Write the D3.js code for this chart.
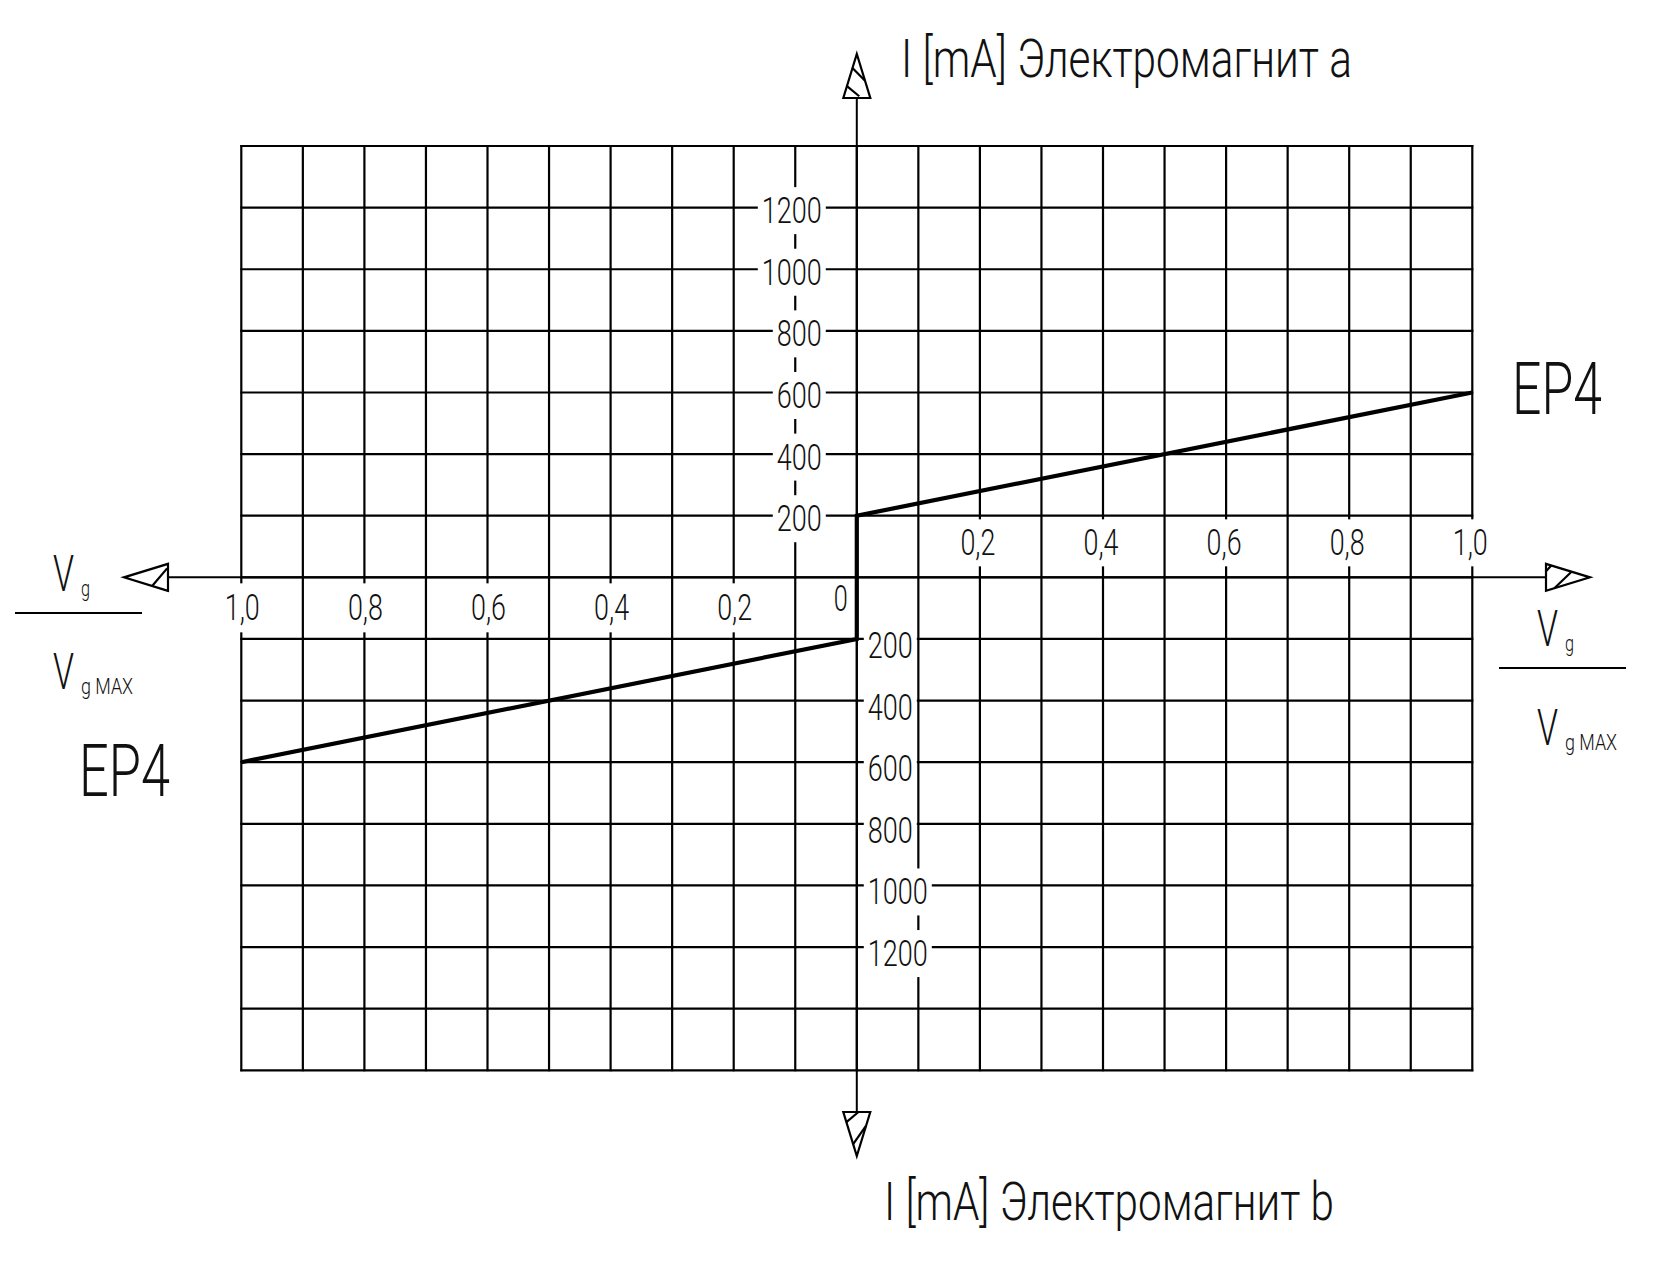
<!DOCTYPE html>
<html>
<head>
<meta charset="utf-8">
<script src="https://cdn.jsdelivr.net/npm/d3@7"></script>
<style>
  html, body { margin: 0; padding: 0; background: #fff; }
  svg { display: block; }
  text { font-family: Roboto, 'DejaVu Sans', sans-serif; font-weight: 300; fill: #111; }
</style>
</head>
<body>
<script>
'use strict';

// ---- data ----
var xTicksRight = [0.2, 0.4, 0.6, 0.8, 1.0];
var xTicksLeft = [-1.0, -0.8, -0.6, -0.4, -0.2];
var yTicksA = [200, 400, 600, 800, 1000, 1200];
var yTicksB = [-200, -400, -600, -800, -1000, -1200];
var curveX = [-1.0, 0, 0, 1.0];
var curveI = [-600, -200, 200, 600];
var titleA = 'I [mA] Электромагнит a';
var titleB = 'I [mA] Электромагнит b';
var seriesName = 'EP4';

var W = 1663, H = 1272;

var svg = d3.select('body').append('svg')
    .attr('width', W).attr('height', H);

var x = d3.scaleLinear().domain([-1, 1]).range([241.3, 1472.3]);
var y = d3.scaleLinear().domain([-1600, 1400]).range([1070.3, 146]);

var fmtX = function(v) { return d3.format('.1f')(Math.abs(v)).replace('.', ','); };
var fmtY = function(v) { return String(Math.abs(v)); };

// width of a label drawn in the narrow drafting style
function labelWidth(str, digit) {
  var w = 0;
  str.split('').forEach(function(c) { w += (c === ',') ? 7 : digit; });
  return w;
}

// text helper, squeezed to a given length
function addText(g, str, px, py, size, anchor, len) {
  var t = g.append('text')
      .attr('x', px).attr('y', py)
      .attr('font-size', size)
      .attr('text-anchor', anchor || 'start')
      .text(str);
  if (len) t.attr('textLength', len).attr('lengthAdjust', 'spacingAndGlyphs');
  return t;
}

// white box behind a text, so grid lines break around it
function backing(g, t, padX, padY) {
  var b = t.node().getBBox();
  g.insert('rect', function() { return t.node(); })
      .attr('x', b.x - padX).attr('y', b.y - padY)
      .attr('width', b.width + 2 * padX).attr('height', b.height + 2 * padY)
      .attr('fill', '#fff');
}

// ---- grid ----
var grid = svg.append('g').attr('stroke', '#000').attr('stroke-width', 2.2);
grid.selectAll('line.v').data(x.ticks(20)).enter().append('line')
    .attr('class', 'v')
    .attr('x1', function(d) { return x(d); }).attr('x2', function(d) { return x(d); })
    .attr('y1', y(1400) - 1).attr('y2', y(-1600) + 1);
grid.selectAll('line.h').data(y.ticks(15)).enter().append('line')
    .attr('class', 'h')
    .attr('y1', function(d) { return y(d); }).attr('y2', function(d) { return y(d); })
    .attr('x1', x(-1) - 1).attr('x2', x(1) + 1);

// ---- axes ----
var axes = svg.append('g').attr('stroke', '#000').attr('stroke-width', 2).attr('fill', 'none');
var x0 = x(0), y0 = y(0);
var arrowLen = 44, arrowHalf = 13.5;
var axL = 124 + arrowLen, axR = 1590 - arrowLen, axT = 55 + arrowLen - 1, axB = 1156 - arrowLen;

axes.append('line').attr('x1', axL).attr('x2', axR).attr('y1', y0).attr('y2', y0);
axes.append('line').attr('x1', x0).attr('x2', x0).attr('y1', axT).attr('y2', axB);

// hatched drafting arrow; local frame: u from base (0) to tip (1), v across (-1..1)
function arrow(bx, by, dx, dy, hatches) {
  var nx = -dy, ny = dx;
  var pt = function(u, v) {
    var hw = arrowHalf * (1 - u) * v;
    return [bx + dx * arrowLen * u + nx * hw, by + dy * arrowLen * u + ny * hw];
  };
  var tri = [pt(0, -1), pt(1, 0), pt(0, 1)];
  axes.append('path').attr('d', 'M' + tri.join('L') + 'Z').attr('fill', '#fff').attr('stroke-width', 2.2);
  hatches.forEach(function(h) {
    var a = pt(h[0], h[1]), b = pt(h[2], h[3]);
    axes.append('line').attr('x1', a[0]).attr('y1', a[1]).attr('x2', b[0]).attr('y2', b[1]).attr('stroke-width', 2.2);
  });
}
// up, down, right, left
arrow(x0, axT, 0, -1, [[0.39, 1, 0.68, -1], [0.04, 0.19, 0.27, -1]]);
arrow(x0, axB, 0, 1, [[0.73, 1, 0.31, -1], [0.23, 1, 0, -0.12]]);
arrow(axR, y0, 1, 0, [[0.19, 1, 0.58, -1], [0, -0.45, 0.12, -1]]);
arrow(axL, y0, -1, 0, [[0.36, -1, 0.02, 0.68]]);

// ---- tick labels ----
var labels = svg.append('g');

xTicksRight.forEach(function(v) {
  var s = fmtX(v);
  var t = addText(labels, s, x(v) - 2, y0 - 22, 37, 'middle', labelWidth(s, 14));
  backing(labels, t, 5, 2);
});
xTicksLeft.forEach(function(v) {
  var s = fmtX(v);
  var t = addText(labels, s, x(v) + 1, y0 + 43, 37, 'middle', labelWidth(s, 14));
  backing(labels, t, 5, 3);
});
addText(labels, '0', x0 - 16, y0 + 34, 37, 'middle', 14);

yTicksA.forEach(function(v) {
  var s = fmtY(v);
  var t = addText(labels, s, x0 - 35, y(v) + 15.5, 37, 'end', labelWidth(s, 15));
  backing(labels, t, 4, 2);
});
yTicksB.forEach(function(v) {
  var s = fmtY(v);
  var t = addText(labels, s, x0 + 11, y(v) + 19, 37, 'start', labelWidth(s, 15));
  backing(labels, t, 4, 2);
});

// ---- curve ----
var curve = d3.zip(curveX, curveI);
svg.append('path')
    .datum(curve)
    .attr('fill', 'none')
    .attr('stroke', '#000')
    .attr('stroke-width', 4.2)
    .attr('stroke-linejoin', 'miter')
    .attr('d', d3.line().x(function(d) { return x(d[0]); }).y(function(d) { return y(d[1]); }));

// ---- titles and names ----
var ann = svg.append('g');
addText(ann, titleA, 901, 77, 53, 'start', 451);
addText(ann, titleB, 884, 1220, 53, 'start', 450);
addText(ann, seriesName, 1512, 414, 72, 'start', 90);
addText(ann, seriesName, 79, 796, 72, 'start', 91);

// V_g / V_g MAX fractions
function fraction(vx, top, lineX1, lineX2, lineY, bottom) {
  addText(ann, 'V', vx, top, 50, 'start', 21);
  addText(ann, 'g', vx + 28, top + 5, 22, 'start', 9);
  ann.append('line').attr('x1', lineX1).attr('x2', lineX2).attr('y1', lineY).attr('y2', lineY)
      .attr('stroke', '#000').attr('stroke-width', 2.2);
  addText(ann, 'V', vx, bottom, 50, 'start', 21);
  addText(ann, 'g MAX', vx + 28, bottom + 5, 22, 'start', 52);
}
fraction(53, 591, 15, 142, 613, 689);
fraction(1537, 646, 1499, 1626, 668, 745);
</script>
</body>
</html>
